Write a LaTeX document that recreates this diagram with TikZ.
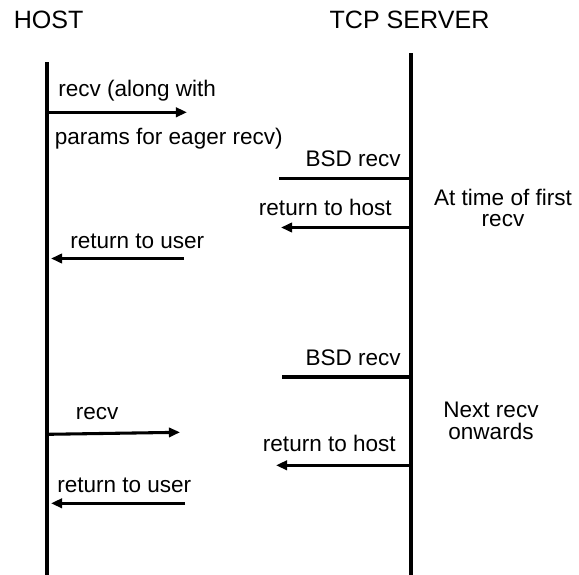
\documentclass[tikz,border=0pt]{standalone}
\usepackage{fontspec}
\setmainfont{Liberation Sans}
\usetikzlibrary{arrows.meta}
\tikzset{
  lifeline/.style={line width=2.6pt},
  msg/.style={line width=2.3pt,-{Triangle[length=8.3pt,width=7pt]}},
  plainmsg/.style={line width=2.3pt},
  lbl/.style={inner sep=0pt,font=\fontsize{16.9pt}{19pt}\selectfont},
  head/.style={inner sep=0pt,font=\fontsize{18.8pt}{22pt}\selectfont},
}
\begin{document}
\begin{tikzpicture}[x=0.75pt,y=-0.75pt]
\useasboundingbox (0,0) rectangle (579,575);
% headings
\node[head,anchor=base west] (host) at (13.5,28.5) {HOST};
\node[head,anchor=base] (server) at (409.5,28.5) {TCP SERVER};
% lifelines
\coordinate (ht) at (47,62);
\coordinate (hb) at (47,575);
\coordinate (st) at (411,53);
\coordinate (sb) at (411,575);
\draw[lifeline] (ht) -- (hb);
\draw[lifeline] (st) -- (sb);
% section 1
\coordinate (a1s) at (48,112.3);
\coordinate (a1e) at (187,112.3);
\draw[msg] (a1s) -- (a1e);
\node[lbl,anchor=base west] (t1) at (58,96.7) {recv (along with};
\node[lbl,anchor=base west] (t1b) at (54.5,144) {params for eager recv)};

\coordinate (b1s) at (411,178.3);
\coordinate (b1e) at (279,178.3);
\draw[plainmsg] (b1s) -- (b1e);
\node[lbl,anchor=base east] (t2) at (401,166.7) {BSD recv};

\coordinate (c1s) at (411,227.5);
\coordinate (c1e) at (281,227.5);
\draw[msg] (c1s) -- (c1e);
\node[lbl,anchor=base east] (t3) at (392,215.5) {return to host};

\coordinate (d1s) at (184,258.5);
\coordinate (d1e) at (51,258.5);
\draw[msg] (d1s) -- (d1e);
\node[lbl,anchor=base west] (t4) at (70,248.3) {return to user};

\node[lbl,anchor=base] (n1a) at (503,205) {At time of first};
\node[lbl,anchor=base] (n1b) at (503,226) {recv};

% section 2
\coordinate (b2s) at (412.5,377);
\coordinate (b2e) at (282,377);
\draw[plainmsg] (b2s) -- (b2e);
\node[lbl,anchor=base east] (t5) at (401,365) {BSD recv};

\coordinate (a2s) at (48,434.3);
\coordinate (a2e) at (180,432.3);
\draw[msg] (a2s) -- (a2e);
\node[lbl,anchor=base west] (t6) at (75.5,419.3) {recv};

\coordinate (c2s) at (411,465.3);
\coordinate (c2e) at (276,465.3);
\draw[msg] (c2s) -- (c2e);
\node[lbl,anchor=base east] (t7) at (396,451.7) {return to host};

\coordinate (d2s) at (185,503.3);
\coordinate (d2e) at (51,503.3);
\draw[msg] (d2s) -- (d2e);
\node[lbl,anchor=base west] (t8) at (57,492.5) {return to user};

\node[lbl,anchor=base] (n2a) at (491,417) {Next recv};
\node[lbl,anchor=base] (n2b) at (491,439) {onwards};
\end{tikzpicture}
\end{document}
